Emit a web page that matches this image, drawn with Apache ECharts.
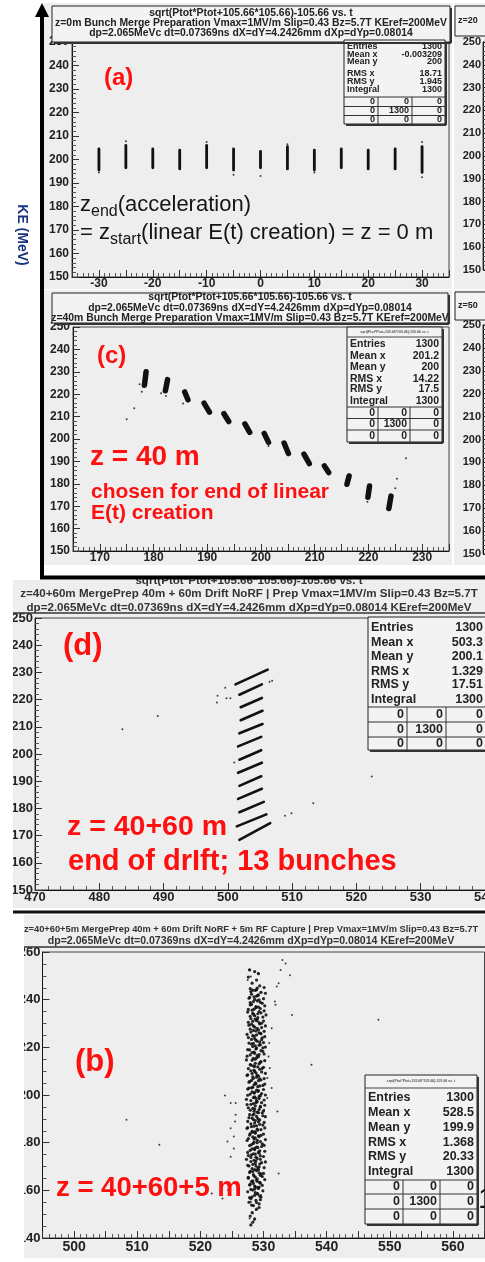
<!DOCTYPE html>
<html><head><meta charset="utf-8">
<script src="https://cdn.jsdelivr.net/npm/echarts@6.0.0/dist/echarts.min.js"></script>
<style>html,body{margin:0;padding:0;background:#fff}#c{width:485px;height:1262px}</style>
</head><body><div id="c"></div>
<script>
// ---------------- DATA ----------------
// (a) z = 0 m : 13 bunches, vertical extent of each bunch (x, low KE, high KE)
const aBunchX  = [-30,-25,-20,-15,-10,-5,0,5,10,15,20,25,30];
const aBunchLo = [195.5,196.5,196.5,196,196.5,195.5,196.5,196,195.5,196.5,196,196,194.5];
const aBunchHi = [204.5,206,204.5,204,206,204.5,203.5,205.5,204,204.5,204,204.5,205.5];
const aStray   = [[-25,207.8],[-10,207.5],[-5,193.5],[0,193],[5,206.5],[10,194.5],[30,207.5],[30,192.5],[-30,194.5]];

// (c) z = 40 m : tilted bunches, end points of each bunch
const cX1 = [178.6,182.6,185.8,189.4,193.1,197.0,200.6,204.3,208.0,211.8,216.4,220.2,224.2];
const cY1 = [230.0,226.5,221.0,216.0,211.3,206.8,202.5,198.2,193.2,188.0,183.5,179.0,174.5];
const cX2 = [178.3,182.2,186.4,190.4,194.0,197.9,201.4,205.1,209.0,212.6,216.0,219.9,223.8];
const cY2 = [224.0,221.5,217.5,212.0,207.8,203.0,198.5,193.5,189.0,185.0,179.8,174.0,169.0];
const cStray = [[175,208.8],[176.4,213.7],[177.4,224.4],[177.8,221.1],[181.4,220.4],[185.5,215.9],[201.4,196.9],[225,178],[225.3,182.2],[227,191.4],[219.8,172],[182.3,219.2]];

// (d) z = 40+60 m : 13 sheared bunches
const dX1 = [501.2,501.8,502.0,502.0,501.8,501.6,501.8,501.6,501.8,501.6,501.8,501.4,501.8];
const dY1 = [225.6,221.8,217.2,212.4,207.6,202.8,197.9,193.1,188.3,183.5,178.6,173.4,168.4];
const dX2 = [506.2,505.3,505.3,505.4,505.4,505.2,505.2,505.3,505.2,505.3,505.6,506.0,506.6];
const dY2 = [231.0,225.6,220.6,215.9,211.0,206.3,201.4,196.8,191.8,187.2,182.4,177.8,174.6];
const dStray = [[483.6,209.1],[489.1,214.0],[498.4,221.4],[498.3,218.9],[499.8,220.5],[500.4,220.5],[499.6,224.4],[506.5,226.6],[506.9,226.9],[501.0,196.9],[508.9,177.3],[509.9,178.2],[513.3,181.9],[522.4,191.7]];

// (b) z = 40+60+5 m : captured cloud
const bCore = [[527.8,252.5],[528.6,251.8],[529.2,250.9],[527.6,249.5],[528.9,248.2],[528.2,246.9],[529.4,245.8],[527.9,244.6],[528.7,243.9],[529.6,243.1],[528.1,242.3],[528.9,241.5],[527.7,240.6],[529.3,239.9],[528.4,239.2],[529.8,238.5],[527.9,237.8],[528.8,237.1],[529.5,236.3],[528.2,235.6],[527.5,234.8],[529.1,234.1],[528.6,233.3],[529.9,232.7],[528.0,232.0],[528.9,231.2],[527.6,230.5],[529.4,229.8],[528.4,229.0],[529.7,228.3],[527.9,227.6],[528.8,226.9],[529.3,226.1],[527.4,225.4],[528.5,224.7],[529.8,224.0],[528.1,223.3],[529.0,222.6],[527.7,221.8],[529.5,221.1],[528.3,220.4],[528.9,219.7],[527.5,219.0],[529.9,218.3],[528.6,217.5],[527.9,216.8],[529.2,216.1],[528.4,215.4],[527.3,214.7],[529.6,214.0],[528.7,213.3],[528.0,212.5],[529.1,211.8],[527.6,211.1],[528.5,210.4],[529.7,209.7],[528.2,209.0],[527.4,208.2],[528.9,207.5],[529.4,206.8],[528.1,206.1],[527.7,205.4],[528.8,204.7],[529.9,204.0],[528.3,203.2],[527.5,202.5],[529.2,201.8],[528.6,201.1],[527.9,200.4],[529.5,199.7],[528.4,198.9],[527.3,198.2],[528.9,197.5],[529.7,196.8],[528.0,196.1],[528.7,195.4],[527.6,194.6],[529.3,193.9],[528.5,193.2],[529.8,192.5],[527.8,191.8],[528.9,191.0],[528.2,190.3],[529.4,189.6],[527.5,188.9],[528.6,188.2],[529.9,187.4],[528.1,186.7],[527.4,186.0],[529.1,185.3],[528.7,184.6],[527.9,183.8],[529.6,183.1],[528.3,182.4],[527.6,181.7],[529.0,181.0],[528.5,180.2],[529.8,179.5],[527.8,178.8],[528.9,178.1],[528.2,177.4],[529.4,176.6],[527.5,175.9],[528.7,175.2],[529.5,174.5],[528.0,173.8],[527.3,173.0],[528.8,172.3],[529.7,171.6],[528.3,170.9],[527.7,170.2],[529.1,169.4],[528.6,168.7],[527.9,168.0],[529.3,167.3],[528.4,166.6],[529.8,165.8],[527.6,165.1],[528.9,164.4],[528.1,163.7],[529.5,163.0],[527.8,162.2],[528.7,161.5],[529.2,160.8],[528.3,160.1],[527.5,159.4],[529.0,158.6],[528.6,157.9],[529.6,157.2],[528.0,156.5],[528.8,155.8],[527.7,155.0],[529.3,154.3],[528.4,153.6],[528.9,152.1],[528.2,150.7],[527.9,149.2],[528.6,148.0],[528.3,146.6],[528.0,145.5],
[528.9,244.2],[528.0,243.4],[529.2,242.0],[527.8,241.0],[528.6,240.1],[529.5,238.9],[528.1,238.0],[528.8,236.6],[527.6,235.9],[529.3,235.0],[528.4,233.9],[527.9,233.0],[529.0,231.6],[528.3,230.9],[529.7,230.1],[527.7,229.3],[528.6,228.5],[529.2,227.3],[528.0,226.4],[529.6,225.7],[528.3,224.9],[527.6,224.1],[528.8,223.0],[529.4,222.2],[528.1,221.4],[528.7,220.6],[529.9,219.8],[527.8,218.9],[528.5,218.0],[529.3,217.0],[527.4,216.3],[528.9,215.6],[528.2,214.6],[529.5,213.7],[527.9,212.8],[528.6,212.0],[529.8,211.2],[528.0,210.1],[528.8,209.3],[527.5,208.5],[529.2,207.9],[528.4,207.0],[529.6,206.3],[527.8,205.6],[528.5,204.3],[529.1,203.5],[527.7,202.9],[528.9,202.1],[528.2,201.3],[529.7,200.6],[527.5,199.9],[528.6,199.2],[529.3,198.5],[528.0,197.7],[528.8,196.8],[527.4,196.0],[529.5,195.2],[528.3,194.4],[527.9,193.6],[529.0,192.8],[528.5,192.0],[529.9,191.3],[527.7,190.5],[528.4,189.7],[529.2,188.8],[528.0,187.9],[528.9,187.1],[527.5,186.3],[529.6,185.5],[528.2,184.8],[528.7,184.0],[527.8,183.2],[529.3,182.5],[528.5,181.6],[527.4,180.9],[529.0,180.0],[528.1,179.2],[529.7,178.4],[528.6,177.6],[527.9,176.8],[529.2,176.0],[528.4,175.3],[527.6,174.6],[528.8,173.9],[529.5,173.0],[528.0,172.1],[528.7,171.3],[527.5,170.5],[529.3,169.8],[528.2,169.1],[528.9,168.3],[527.8,167.5],[529.6,166.9],[528.5,166.0],[527.6,165.5],[529.0,164.8],[528.3,164.0],[529.4,163.3],[527.9,162.6],[528.6,161.8],[529.1,161.1],[528.0,160.4],[528.7,159.0],[529.4,157.6],[527.8,156.9],
[530.1,245.1],[529.0,244.9],[528.3,244.0],[530.3,242.7],[529.1,241.8],[528.5,241.2],[530.0,240.4],[529.0,239.5],[527.9,238.8],[530.2,237.4],[529.2,236.9],[528.5,236.0],[530.1,235.3],[529.6,234.5],[528.3,234.3],[530.4,233.6],[529.1,232.5],[528.7,231.8],[530.0,231.0],[529.3,230.4],[528.1,229.7],[530.3,229.0],[529.0,228.0],[528.4,227.1],[530.1,226.7],[529.5,225.9],[528.9,225.2],[530.2,224.5],[528.6,223.7],[529.7,223.2],[530.0,222.0],[528.4,221.7],[529.3,220.9],[530.3,220.1],[528.8,219.3],[529.6,218.6],[528.2,217.8],[530.1,217.2],[529.0,216.5],[528.7,215.0],[530.2,214.4],[529.3,213.1],[528.4,212.2],[530.0,211.6],[529.4,210.8],[528.6,209.9],[530.3,209.1],[529.0,208.3],[528.3,207.6],[530.1,206.9],[529.2,206.0],[528.7,205.1],[530.2,204.6],[529.4,203.8],[528.1,203.0],[530.0,202.3],[529.1,201.5],[528.5,200.8],[530.3,200.0],[529.3,199.4],[528.8,198.6],[530.1,197.9],[529.0,197.2],[528.4,196.4],[530.2,195.7],[529.5,194.9],[528.6,194.1],[530.0,193.3],[529.2,192.6],[528.3,191.6],[530.3,190.9],[529.1,190.1],[528.7,189.3],[530.1,188.5],[529.4,187.7],[528.5,186.9],[530.2,186.2],[529.0,185.7],[528.3,184.4],[530.0,183.6],[529.2,182.9],[528.7,182.0],[530.3,181.3],[529.5,180.5],[528.4,179.7],[530.1,178.9],[529.1,178.0],[528.6,177.1],[530.2,176.4],[529.3,175.6],[528.1,174.9],[530.0,174.2],[529.0,173.4],[528.5,172.6],[530.3,171.9],[529.4,171.0],[528.8,170.2],[530.1,169.5],[529.2,168.6],[528.3,167.9],[530.0,167.1],[529.5,166.3],[528.7,165.6],[530.2,164.5],[529.0,163.8],[528.4,162.9],[529.8,162.1],[529.3,161.4],[528.6,160.6],[529.9,159.8],[529.1,158.5],[528.2,157.3],[529.5,156.1],[528.9,154.9],[528.1,153.8],[529.3,152.8]];
const bHalo = [[527.75,252.5],[529.1,251.1],[528.0,249.7],[527.5,248.3],[533.0,256.6],[533.5,255.2],[532.7,252.5],[534.2,250.2],[532.4,246.9],[532.1,245.5],[531.8,239.2],[531.9,237.9],[534.5,233.6],[548.2,231.6],[531.3,228.0],[530.9,221.8],[530.8,216.2],[537.6,212.7],[531.0,211.3],[530.6,207.1],[531.3,202.9],[530.6,198.7],[523.9,199.8],[524.8,196.6],[525.6,196.6],[530.1,193.8],[532.2,193.1],[525.6,191.7],[525.5,188.9],[508.3,189.6],[524.8,186.1],[525.3,182.6],[524.3,180.5],[513.5,179.1],[525.3,177.6],[524.8,174.1],[532.4,167.1],[521.8,158.7],[523.5,156.6],[524.4,160.1],[528.0,155.2],[528.3,150.3],[527.8,148.2],[528.8,151.7],[528.5,147.5],[529.6,158.0]];

// stats boxes
const statLabels = ['Entries','Mean x','Mean y','RMS x','RMS y','Integral'];
const aStats = ['1300','-0.003209','200','18.71','1.945','1300'];
const cStats = ['1300','201.2','200','14.22','17.5','1300'];
const dStats = ['1300','503.3','200.1','1.329','17.51','1300'];
const bStats = ['1300','528.5','199.9','1.368','20.33','1300'];
const statTable = [['0','0','0'],['0','1300','0'],['0','0','0']];

// titles
const titleA = ['sqrt(Ptot*Ptot+105.66*105.66)-105.66 vs. t','z=0m Bunch Merge Preparation Vmax=1MV/m Slip=0.43 Bz=5.7T KEref=200MeV','dp=2.065MeVc dt=0.07369ns dX=dY=4.2426mm dXp=dYp=0.08014'];
const titleC = ['sqrt(Ptot*Ptot+105.66*105.66)-105.66 vs. t','dp=2.065MeVc dt=0.07369ns dX=dY=4.2426mm dXp=dYp=0.08014','z=40m Bunch Merge Preparation Vmax=1MV/m Slip=0.43 Bz=5.7T KEref=200MeV'];
const titleD = ['sqrt(Ptot*Ptot+105.66*105.66)-105.66 vs. t','z=40+60m MergePrep 40m + 60m Drift NoRF | Prep Vmax=1MV/m Slip=0.43 Bz=5.7T','dp=2.065MeVc dt=0.07369ns dX=dY=4.2426mm dXp=dYp=0.08014 KEref=200MeV'];
const titleB = ['z=40+60+5m MergePrep 40m + 60m Drift NoRF + 5m RF Capture | Prep Vmax=1MV/m Slip=0.43 Bz=5.7T','dp=2.065MeVc dt=0.07369ns dX=dY=4.2426mm dXp=dYp=0.08014 KEref=200MeV'];
const statHeader = 'sqrt(Ptot*Ptot+105.66*105.66)-105.66 vs. t';

// ---------------- BUILD ----------------
const FONT = 'Liberation Sans';
const RED = '#ff1010';
const BG = '#eeeeee';
const G = [];
function rect(x,y,w,h,fill,z,stroke,lw){G.push({type:'rect',z:z,shape:{x:x,y:y,width:w,height:h},style:{fill:fill,stroke:stroke||null,lineWidth:lw||0}});}
function line(x1,y1,x2,y2,c,lw,z){G.push({type:'line',z:z||60,shape:{x1:x1,y1:y1,x2:x2,y2:y2},style:{stroke:c,lineWidth:lw}});}
function text(x,y,s,size,o){o=o||{};G.push({type:'text',z:o.z||70,x:x,y:y,rotation:o.rot||0,style:{text:s,fontSize:size,fontFamily:FONT,fontWeight:o.w||'bold',fill:o.c||'#222',textAlign:o.a||'left',textVerticalAlign:'middle',verticalAlign:'middle'}});}

// panel backgrounds
rect(44,3,408,286,BG,-10); rect(44,290,408,275,BG,-10);
rect(454,3,40,286,BG,-10); rect(454,290,40,275,BG,-10);
rect(13,580,480,328,BG,-10);
rect(24,915,470,343,BG,-10);

// title boxes
function titleBox(x0,y0,x1,y1,lines,ys,cx,fs,col){
  rect(x0,y0,x1-x0,y1-y0,'#f3f3f3',40,'#222',1);
  line(x0+2,y1+1,x1+1,y1+1,'#333',2,41); line(x1+1,y0+2,x1+1,y1+1,'#333',2,41);
  lines.forEach(function(s,i){text(cx,ys[i],s,fs,{a:'center',c:col||'#222',z:42});});
}
titleBox(52,6,450,42,titleA,[13.5,23.5,33.5],251,10.4);
titleBox(52,293,448,323,titleC,[297.5,308.5,318.5],250,10.4);
// right strip boxes
rect(455,6,40,30,'#f3f3f3',40,'#222',1); text(458,21,'z=20',9);
rect(455,292,40,28,'#f3f3f3',40,'#222',1); text(458,306,'z=50',9);
// (d) and (b) titles
titleD.forEach(function(s,i){text(249,[581,593.5,607.5][i],s,11.6,{a:'center',c:'#333',z:42});});
line(13,613,485,613,'#333',1.5,41);
titleB.forEach(function(s,i){text(251,[929,941][i],s,[9.3,10.6][i],{a:'center',c:'#333',z:42});});
line(24,947,485,947,'#333',1.5,41);

// stats boxes
function statsBox(b, vals){
  const x0=b.x0,x1=b.x1;
  rect(x0,b.y0,x1-x0,b.y1-b.y0,'#f3f3f3',40,'#222',1);
  line(x0+2,b.y1+1,x1+1,b.y1+1,'#333',2,41); line(x1+1,b.y0+2,x1+1,b.y1+1,'#333',2,41);
  if(b.head){ line(x0,b.head,x1,b.head,'#444',1,41); text((x0+x1)/2,(b.y0+b.head)/2,statHeader,3.5,{a:'center',c:'#555',z:42}); }
  statLabels.forEach(function(s,i){ text(x0+3,b.ty[i],s,b.fs,{z:42}); text(x1-3,b.ty[i],vals[i],b.fs,{a:'right',z:42}); });
  b.rl.forEach(function(y){ line(x0,y,x1,y,'#333',1,41); });
  line(b.cols[0],b.rl[0],b.cols[0],b.y1,'#333',1,41); line(b.cols[1],b.rl[0],b.cols[1],b.y1,'#333',1,41);
  const rights=[b.cols[0]-3,b.cols[1]-3,x1-3];
  statTable.forEach(function(r,i){ r.forEach(function(v,j){ text(rights[j],b.rt[i],v,b.fs,{a:'right',z:42}); }); });
}
statsBox({x0:344,x1:445,y0:40,y1:124,ty:[47,54.5,62,74,81.5,90],rl:[97,106.5,115.5],rt:[101.8,111,120],cols:[378,412],fs:9},aStats);
statsBox({x0:347,x1:442,y0:327,y1:442,head:337,ty:[344,356,367.5,379,389.5,401],rl:[407,418.5,430],rt:[412.8,424.3,436],cols:[378,410],fs:10.5},cStats);
statsBox({x0:368,x1:486,y0:617,y1:750,ty:[628,643,657,672,685,700],rl:[707,722,737],rt:[714.5,729.5,743.5],cols:[407,446],fs:12.5},dStats);
statsBox({x0:365,x1:477,y0:1075,y1:1224,head:1088,ty:[1098,1113,1128,1143,1157,1172],rl:[1180,1194,1209],rt:[1187,1201.5,1216.5],cols:[403,440],fs:12.5},bStats);

// annotations
text(104,78,'(a)',24,{c:RED});
const RICH = {m:{fontSize:22,fontFamily:FONT,fill:'#151515',lineHeight:30,verticalAlign:'middle'},s:{fontSize:16,fontFamily:FONT,fill:'#151515',lineHeight:16,verticalAlign:'bottom'}};
G.push({type:'text',z:70,x:80,y:205,style:{text:'{m|z}{s|end}{m|(acceleration)}',textVerticalAlign:'middle',verticalAlign:'middle',rich:RICH}});
G.push({type:'text',z:70,x:80,y:233,style:{text:'{m|= z}{s|start}{m|(linear E(t) creation) = z = 0 m}',textVerticalAlign:'middle',verticalAlign:'middle',rich:RICH}});
text(97,356,'(c)',24,{c:RED});
text(90,457,'z = 40 m',28,{c:RED});
text(91,492,'chosen for end of linear',21,{c:RED});
text(91,513,'E(t) creation',21,{c:RED});
text(63,646,'(d)',31,{c:RED});
text(67,827,'z = 40+60 m',28.5,{c:RED});
text(68,862,'end of drIft; 13 bunches',29,{c:RED});
text(75,1062,'(b)',31,{c:RED});
text(56,1188,'z = 40+60+5 m',27.5,{c:RED});
text(478,1200,'1',30,{c:'#111',w:'normal'});
text(22,235,'KE (MeV)',14,{c:'#1a3580',rot:-Math.PI/2,a:'center'});

// frame + arrow
line(42,14,42,579,'#000',4,80);
G.push({type:'polygon',z:80,shape:{points:[[35,17],[49,17],[42,3]]},style:{fill:'#000'}});
line(40,577.5,485,577.5,'#000',4,80);
line(13,912,485,912,'#111',3,80);
// white clips on the left of (d) and (b)
rect(0,580,13,330,'#fff',90); rect(0,914,24,348,'#fff',90);

// ---------------- AXES ----------------
function ax(min,max,interval,fs,margin,minorSplit,every10,opts){
  const o = {type:'value',min:min,max:max,interval:interval,
    axisLine:{show:true,onZero:false,lineStyle:{color:'#111',width:1}},
    axisTick:{show:true,inside:true,length:7,lineStyle:{color:'#333',width:1}},
    minorTick:{show:true,splitNumber:minorSplit,length:4,lineStyle:{color:'#555',width:1}},
    splitLine:{show:false},minorSplitLine:{show:false},
    axisLabel:{fontSize:fs,fontWeight:'bold',fontFamily:FONT,color:'#222',margin:margin,hideOverlap:false,showMinLabel:true,showMaxLabel:true,
      formatter:function(v){ if(every10 && Math.abs(v%10)>1e-6) return ''; return String(Math.round(v)); }}};
  return Object.assign(o,opts||{});
}
const grids = [
  {left:72,top:42,width:377,height:235},
  {left:73,top:327,width:376,height:224},
  {left:35,top:618,width:482,height:272},
  {left:42.5,top:952,width:442,height:286},
  {left:483,top:42,width:60,height:228},
  {left:483,top:325,width:60,height:229}
].map(function(g){return Object.assign({show:true,borderColor:'#444',borderWidth:1,backgroundColor:'transparent',containLabel:false,outerBoundsMode:'none'},g);});

const xAxis = [
  ax(-35,35,5,12,1,5,true,{gridIndex:0}),
  ax(165,235,5,12,1,5,true,{gridIndex:1}),
  ax(470,545,10,13,1,5,false,{gridIndex:2}),
  ax(495,565,5,14,2,5,true,{gridIndex:3}),
  {type:'value',gridIndex:4,min:0,max:1,show:false},
  {type:'value',gridIndex:5,min:0,max:1,show:false}
];
const yAxis = [
  ax(150,250,10,12,3,5,false,{gridIndex:0}),
  ax(150,250,10,12,3,5,false,{gridIndex:1}),
  ax(150,250,10,13,2,5,false,{gridIndex:2}),
  ax(140,260,20,13,2,4,false,{gridIndex:3}),
  ax(150,250,10,11,2,5,false,{gridIndex:4}),
  ax(150,250,10,11,2,5,false,{gridIndex:5})
];

function segRender(lw){
  return function(params,api){
    const p1=api.coord([api.value(0),api.value(1)]), p2=api.coord([api.value(2),api.value(3)]);
    return {type:'line',shape:{x1:p1[0],y1:p1[1],x2:p2[0],y2:p2[1]},style:{stroke:'#111',lineWidth:lw,lineCap:'round'}};
  };
}
const aSeg = aBunchX.map(function(x,i){return [x,aBunchLo[i],x,aBunchHi[i]];});
const cSeg = cX1.map(function(x,i){return [x,cY1[i],cX2[i],cY2[i]];});
const dSeg = dX1.map(function(x,i){return [x,dY1[i],dX2[i],dY2[i]];});

const dot = {color:'#111'};
const series = [
  {type:'custom',xAxisIndex:0,yAxisIndex:0,renderItem:segRender(2.8),data:aSeg,encode:{x:[0,2],y:[1,3]},silent:true},
  {type:'scatter',xAxisIndex:0,yAxisIndex:0,symbolSize:2,itemStyle:dot,data:aStray,silent:true},
  {type:'custom',xAxisIndex:1,yAxisIndex:1,renderItem:segRender(5.5),data:cSeg,encode:{x:[0,2],y:[1,3]},silent:true},
  {type:'scatter',xAxisIndex:1,yAxisIndex:1,symbolSize:2,itemStyle:dot,data:cStray,silent:true},
  {type:'custom',xAxisIndex:2,yAxisIndex:2,renderItem:segRender(2.6),data:dSeg,encode:{x:[0,2],y:[1,3]},silent:true},
  {type:'scatter',xAxisIndex:2,yAxisIndex:2,symbolSize:2,itemStyle:dot,data:dStray,silent:true},
  {type:'scatter',xAxisIndex:3,yAxisIndex:3,symbolSize:3.2,itemStyle:{color:'#111',opacity:0.9},data:bCore,silent:true},
  {type:'scatter',xAxisIndex:3,yAxisIndex:3,symbolSize:2,itemStyle:dot,data:bHalo,silent:true}
];

const chart = echarts.init(document.getElementById('c'),null,{renderer:'canvas'});
chart.setOption({backgroundColor:'#ffffff',animation:false,grid:grids,xAxis:xAxis,yAxis:yAxis,series:series,graphic:{elements:G}});
</script></body></html>
